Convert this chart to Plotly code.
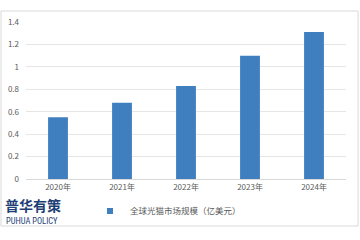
import plotly.graph_objects as go

years = ["2020年", "2021年", "2022年", "2023年", "2024年"]
values = [0.55, 0.68, 0.83, 1.10, 1.31]
series_name = "全球光猫市场规模（亿美元）"
y_ticks = [0, 0.2, 0.4, 0.6, 0.8, 1, 1.2, 1.4]
y_tick_labels = ["0", "0.2", "0.4", "0.6", "0.8", "1", "1.2", "1.4"]

bar_color = "#3f7fbf"

fig = go.Figure()
fig.add_trace(go.Bar(
    x=years, y=values, name=series_name, showlegend=False,
    marker=dict(color=bar_color, line=dict(width=0)),
    width=0.31,
))
# legend entry with a small square swatch
fig.add_trace(go.Scatter(
    x=[None], y=[None], mode="markers", name=series_name,
    marker=dict(symbol="square", size=6, color=bar_color),
))

font_family = "Noto Sans CJK SC, Microsoft YaHei, sans-serif"

fig.update_layout(
    width=360, height=240,
    margin=dict(l=26, r=14, t=22, b=61, autoexpand=False),
    paper_bgcolor="white", plot_bgcolor="white",
    font=dict(family=font_family, size=8, color="#595959"),
    showlegend=True,
    legend=dict(orientation="h", xref="container", yref="container",
                x=90/360, y=(240-211)/240, xanchor="left", yanchor="middle",
                font=dict(size=8.5, color="#595959"), itemwidth=30,
                bgcolor="rgba(0,0,0,0)"),
    xaxis=dict(showgrid=False, showline=True, linecolor="#d9d9d9", linewidth=1,
               ticks="", tickfont=dict(size=8, color="#595959")),
    yaxis=dict(range=[0, 1.4], tickvals=y_ticks, ticktext=y_tick_labels,
               showgrid=True, gridcolor="#e6e6e6", gridwidth=1,
               zeroline=False, showline=False, ticks="",
               tickfont=dict(size=8, color="#595959"), ticklabelstandoff=6),
)

fig.add_shape(type="rect", xref="paper", yref="paper",
              x0=-25/320, x1=(358-26)/320, y0=(179-226)/157, y1=(179-11)/157,
              line=dict(color="#d9d9d9", width=1), fillcolor="rgba(0,0,0,0)", layer="below")

fig.add_annotation(text="<b>普华有策</b>", xref="paper", yref="paper",
                   x=-23/320, y=(179-205)/157, xanchor="left", yanchor="middle",
                   showarrow=False, font=dict(size=14, color="#1f3f77", family=font_family))
fig.add_annotation(text="PUHUA POLICY", xref="paper", yref="paper",
                   x=-22/320, y=(179-221)/157, xanchor="left", yanchor="middle",
                   showarrow=False, font=dict(size=8.5, color="#1f3f77",
                                              family="Liberation Sans Narrow, Roboto Condensed, sans-serif"))

fig.write_html("out.html")
